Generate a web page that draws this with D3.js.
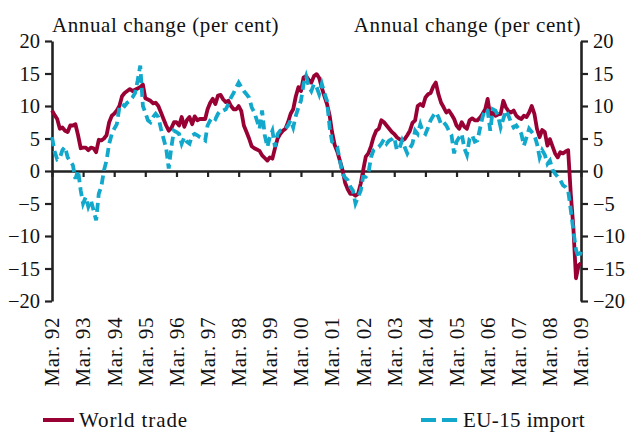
<!DOCTYPE html>
<html>
<head>
<meta charset="utf-8">
<script src="https://cdn.jsdelivr.net/npm/d3@7"></script>
<style>
  body { margin: 0; background: #fff; }
  svg { display: block; }
  text { font-family: "Liberation Serif", "DejaVu Serif", serif; fill: #111; }
</style>
</head>
<body>
<div id="chart"></div>
<script>
// monthly annual % change, Mar. 1992 .. Mar. 2009
const firstMonth = new Date(1992, 2, 1);
const lastMonth = new Date(2009, 2, 1);

const worldTrade = [
  9.3, 8.6, 8.0, 6.5, 6.7, 6.2, 6.0, 7.0, 7.0, 7.2, 5.5, 3.5,
  3.6, 3.6, 3.2, 3.6, 3.5, 2.9, 4.8, 4.7, 5.0, 5.5, 7.5, 8.5,
  8.8, 9.3, 10.0, 11.5, 12.0, 12.3, 12.6, 12.3, 12.5, 12.7, 12.9, 13.3,
  11.2, 11.0, 10.8, 10.4, 10.5, 10.0, 9.0, 8.0, 7.0, 6.2, 6.6, 7.5,
  7.5, 7.0, 8.3, 6.8, 7.8, 8.3, 7.2, 8.4, 7.8, 8.0, 8.0, 8.0,
  9.5, 10.5, 11.1, 10.3, 11.6, 11.7, 11.0, 10.6, 10.8, 10.0, 9.5, 9.5,
  10.0, 9.2, 7.0, 6.0, 5.0, 3.8, 3.5, 3.3, 3.1, 2.4, 2.0, 1.6,
  2.1, 1.9, 3.5, 5.0, 5.7, 6.2, 6.5, 7.5, 8.8, 9.5, 11.5, 12.9,
  12.3, 14.4, 14.6, 14.0, 13.6, 14.6, 14.9, 14.3, 12.8, 11.5, 10.3, 8.5,
  6.0, 4.0, 3.0, 1.6, 0.2, -1.8, -2.8, -3.5, -3.5, -3.8, -3.5, -1.9,
  0.1, 2.2, 2.7, 3.8, 5.2, 6.2, 6.5, 7.8, 7.5, 7.0, 6.5, 6.0,
  5.7, 5.2, 4.9, 4.7, 4.9, 5.5, 6.2, 7.4, 7.8, 10.0, 10.3, 10.0,
  11.3, 11.8, 12.0, 13.0, 13.6, 11.8, 10.5, 9.8, 9.0, 9.3, 8.7, 8.0,
  7.0, 6.5, 7.5, 6.8, 6.5, 7.8, 8.1, 7.8, 7.8, 8.2, 8.8, 9.5,
  11.1, 8.5, 9.0, 8.5, 8.7, 8.8, 10.8, 9.8, 9.2, 9.0, 9.3, 8.5,
  8.2, 8.0, 8.5, 8.3, 9.0, 10.0, 8.8, 6.5, 5.2, 6.3, 6.0, 3.9,
  4.9, 3.8, 2.7, 2.1, 2.9, 2.7, 3.0, 3.2, -3.5, -8.6, -16.5, -14.5,
  -14.2
];

const euImport = [
  5.2, 3.0, 1.8, 2.0, 3.2, 3.7, 2.1, 1.5, 0.9, -1.2, 0.1, -3.0,
  -5.0, -4.0, -5.5, -4.5, -6.0, -7.6, -3.5, -2.4, 0.1, 1.6, 4.2, 5.7,
  6.5, 7.2, 9.8, 10.3, 10.0, 10.5, 10.8, 11.3, 12.0, 13.9, 16.2, 10.0,
  9.0, 7.8, 7.5, 8.3, 8.8, 8.3, 6.5, 5.0, 3.5, 0.4, 3.7, 6.2,
  6.0, 5.7, 4.2, 5.2, 4.5, 4.2, 5.5, 5.7, 5.5, 5.2, 5.0, 4.7,
  7.0, 7.8, 8.3, 8.0, 8.8, 9.3, 9.3, 9.5, 10.3, 11.3, 12.0, 12.9,
  13.6, 12.9, 12.3, 11.8, 11.3, 9.8, 9.0, 7.8, 6.5, 9.3, 5.5, 3.7,
  5.2, 6.2, 3.7, 5.7, 6.2, 6.3, 6.5, 7.0, 7.8, 6.7, 8.5, 9.8,
  10.8, 13.4, 14.6, 13.0, 12.3, 13.4, 12.9, 11.8, 13.4, 12.0, 10.8, 6.7,
  4.5, 4.2, 3.7, 1.6, -0.4, -1.0, -1.4, -2.4, -3.0, -5.0, -4.0, -3.0,
  -0.9, -0.9, -0.4, 2.1, 3.2, 3.5, 3.7, 4.2, 4.9, 4.2, 4.7, 4.9,
  5.2, 3.2, 3.5, 4.7, 3.7, 2.7, 3.5, 4.2, 6.2, 5.7, 7.2, 6.0,
  5.7, 6.7, 7.8, 8.5, 9.0, 8.3, 7.2, 7.5, 7.0, 6.2, 5.5, 2.7,
  4.5, 5.2, 5.7, 3.5, 2.5, 5.0, 5.5, 4.5, 4.7, 6.5, 8.3, 9.5,
  9.3, 6.2, 9.5, 9.3, 8.5, 6.7, 8.0, 9.3, 8.5, 7.5, 6.7, 7.0,
  6.5, 5.7, 3.9, 5.2, 6.5, 6.0, 5.5, 4.2, 2.1, 3.2, 2.5, 1.1,
  1.6, 0.2, -0.4, -0.9, -1.4, -2.2, -2.5, -3.0, -6.0, -9.1, -12.1, -13.4,
  -12.4
];

const tickYears = d3.range(1992, 2010);
const tickLabels = ['Mar. 92', 'Mar. 93', 'Mar. 94', 'Mar. 95', 'Mar. 96', 'Mar. 97',
  'Mar. 98', 'Mar. 99', 'Mar. 00', 'Mar. 01', 'Mar. 02', 'Mar. 03', 'Mar. 04',
  'Mar. 05', 'Mar. 06', 'Mar. 07', 'Mar. 08', 'Mar. 09'];
const yTicks = [20, 15, 10, 5, 0, -5, -10, -15, -20];
const axisTitle = 'Annual change (per cent)';

const width = 628, height = 432;
const plotLeft = 52, plotRight = 581, plotTop = 41, plotBottom = 301;

const svg = d3.select('#chart')
  .append('svg')
  .attr('width', width)
  .attr('height', height);

const x = d3.scaleTime().domain([firstMonth, lastMonth]).range([plotLeft, plotRight]);
const y = d3.scaleLinear().domain([-20, 20]).range([plotBottom, plotTop]);

const dateOf = i => d3.timeMonth.offset(firstMonth, i);
const tickDates = tickYears.map(yr => new Date(yr, 2, 1));

// axes
const styleAxis = g => {
  g.selectAll('path.domain').attr('stroke', '#222').attr('stroke-width', 2.6);
  g.selectAll('.tick line').attr('stroke', '#222').attr('stroke-width', 2.2);
  g.selectAll('.tick text')
    .attr('font-family', '"Liberation Serif", serif')
    .attr('font-size', 20.5)
    .attr('fill', '#111');
};

svg.append('g')
  .attr('transform', `translate(${plotLeft},0)`)
  .call(d3.axisLeft(y).tickValues(yTicks).tickSize(7).tickSizeOuter(0).tickPadding(5))
  .call(styleAxis);

svg.append('g')
  .attr('transform', `translate(${plotRight},0)`)
  .call(d3.axisRight(y).tickValues(yTicks).tickSize(7).tickSizeOuter(0).tickPadding(5))
  .call(styleAxis);

svg.append('g')
  .attr('transform', `translate(0,${y(0)})`)
  .call(d3.axisBottom(x).tickValues(tickDates).tickSize(6).tickSizeOuter(0).tickFormat(''))
  .call(styleAxis);

// month labels under the plot
svg.append('g')
  .selectAll('text')
  .data(tickDates)
  .join('text')
  .attr('transform', d => `translate(${x(d)},317) rotate(-90)`)
  .attr('dy', '0.35em')
  .attr('text-anchor', 'end')
  .attr('font-size', 21)
  .attr('letter-spacing', 0.6)
  .text((d, i) => tickLabels[i]);

// axis titles
svg.append('text')
  .attr('x', plotLeft).attr('y', 32)
  .attr('font-size', 21)
  .attr('letter-spacing', 0.6)
  .text(axisTitle);

svg.append('text')
  .attr('x', plotRight).attr('y', 32)
  .attr('text-anchor', 'end')
  .attr('font-size', 21)
  .attr('letter-spacing', 0.6)
  .text(axisTitle);

// series
const line = d3.line()
  .x((d, i) => x(dateOf(i)))
  .y(d => y(d));

svg.append('path')
  .datum(worldTrade)
  .attr('fill', 'none')
  .attr('stroke', '#990033')
  .attr('stroke-width', 3.8)
  .attr('stroke-linejoin', 'round')
  .attr('d', line);

svg.append('path')
  .datum(euImport)
  .attr('fill', 'none')
  .attr('stroke', '#12a8cc')
  .attr('stroke-width', 3.8)
  .attr('stroke-dasharray', '9,5')
  .attr('d', line);

// legend
const legend = svg.append('g');
legend.append('line')
  .attr('x1', 43).attr('x2', 74).attr('y1', 420).attr('y2', 420)
  .attr('stroke', '#990033').attr('stroke-width', 4);
legend.append('text')
  .attr('x', 79).attr('y', 427)
  .attr('font-size', 21)
  .attr('letter-spacing', 0.9)
  .text('World trade');

legend.append('line')
  .attr('x1', 421).attr('x2', 458).attr('y1', 420).attr('y2', 420)
  .attr('stroke', '#12a8cc').attr('stroke-width', 4)
  .attr('stroke-dasharray', '15,6');
legend.append('text')
  .attr('x', 463).attr('y', 427)
  .attr('font-size', 21)
  .attr('letter-spacing', 0.4)
  .text('EU-15 import');
</script>
</body>
</html>
